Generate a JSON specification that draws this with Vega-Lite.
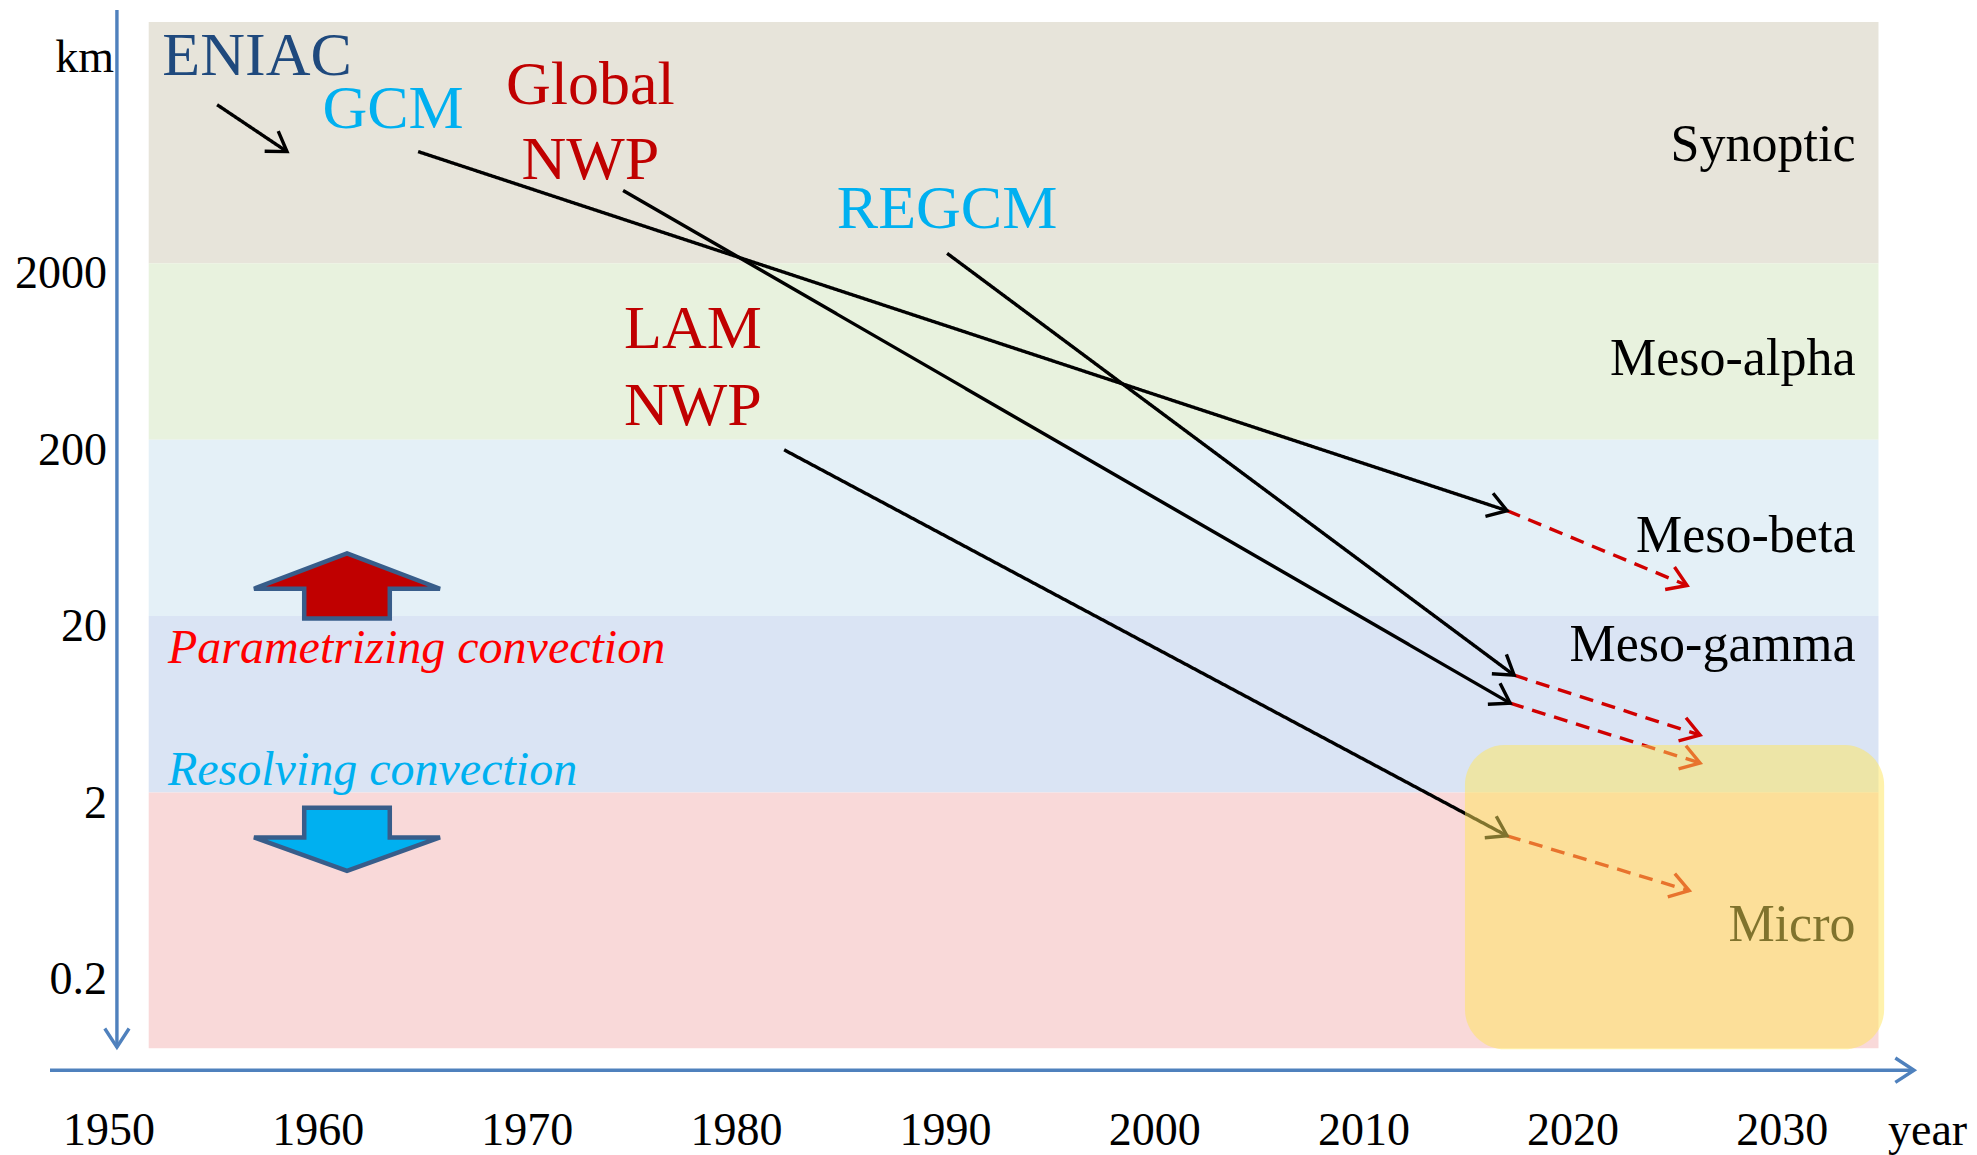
{
  "$schema": "https://vega.github.io/schema/vega-lite/v6.json",
  "width": 1977,
  "height": 1155,
  "autosize": {"type": "fit", "contains": "padding"},
  "padding": 0,
  "background": "#ffffff",
  "config": {"view": {"stroke": null}, "text": {"font": "Liberation Serif"}},
  "datasets": {
    "bands": [
      {"band": "Synoptic", "lo": 2000, "hi": 46600},
      {"band": "Meso-alpha", "lo": 200, "hi": 2000},
      {"band": "Meso-beta", "lo": 20, "hi": 200},
      {"band": "Meso-gamma", "lo": 2, "hi": 20},
      {"band": "Micro", "lo": 0.0711, "hi": 2}
    ],
    "segments": [
      {"seg": "ENIAC", "kind": "solid", "x1": 1955.17, "k1": 15820, "x2": 1958.51, "k2": 8584},
      {"seg": "GCM", "kind": "solid", "x1": 1964.78, "k1": 8584, "x2": 2016.84, "k2": 79.15},
      {"seg": "Global NWP", "kind": "solid", "x1": 1974.58, "k1": 5166, "x2": 2016.99, "k2": 6.42},
      {"seg": "REGCM", "kind": "solid", "x1": 1990.07, "k1": 2275, "x2": 2017.18, "k2": 9.244},
      {"seg": "LAM NWP", "kind": "solid", "x1": 1982.28, "k1": 175.1, "x2": 2016.84, "k2": 1.137},
      {"seg": "GCM future", "kind": "dashed", "x1": 2016.84, "k1": 79.15, "x2": 2025.45, "k2": 29.82},
      {"seg": "REGCM future", "kind": "dashed", "x1": 2017.18, "k1": 9.244, "x2": 2026.07, "k2": 4.232},
      {"seg": "Global NWP future", "kind": "dashed", "x1": 2016.99, "k1": 6.42, "x2": 2026.07, "k2": 2.94},
      {"seg": "LAM NWP future", "kind": "dashed", "x1": 2016.84, "k1": 1.137, "x2": 2025.55, "k2": 0.5556},
      {"seg": "km axis", "kind": "axis", "x1": 1950.38, "k1": 54490, "x2": 1950.38, "k2": 0.072},
      {"seg": "year axis", "kind": "axis", "x1": 1947.18, "k1": 0.05336, "x2": 2036.3, "k2": 0.05336}
    ],
    "models": [
      {"label": "ENIAC", "family": "ENIAC", "x": 1957.08, "km": 23380},
      {"label": "GCM", "family": "climate", "x": 1963.58, "km": 11730},
      {"label": "Global", "family": "nwp", "x": 1973.02, "km": 16030},
      {"label": "NWP", "family": "nwp", "x": 1973.02, "km": 6038},
      {"label": "REGCM", "family": "climate", "x": 1990.07, "km": 3150},
      {"label": "LAM", "family": "nwp", "x": 1977.92, "km": 660.7},
      {"label": "NWP", "family": "nwp", "x": 1977.92, "km": 242.5}
    ],
    "scales": [
      {"band": "Synoptic", "km": 7632},
      {"band": "Meso-alpha", "km": 464.9},
      {"band": "Meso-beta", "km": 46.42},
      {"band": "Meso-gamma", "km": 11.09},
      {"band": "Micro", "km": 0.2898}
    ],
    "notes": [
      {"note": "Parametrizing convection", "km": 10.8},
      {"note": "Resolving convection", "km": 2.208}
    ],
    "shifts": [
      {"dir": "up", "km": 29.63},
      {"dir": "down", "km": 1.086}
    ],
    "yticks": [
      {"label": "2000", "km": 2000},
      {"label": "200", "km": 200},
      {"label": "20", "km": 20},
      {"label": "2", "km": 2},
      {"label": "0.2", "km": 0.2}
    ],
    "years": [
      {"year": 1950}, {"year": 1960}, {"year": 1970}, {"year": 1980}, {"year": 1990},
      {"year": 2000}, {"year": 2010}, {"year": 2020}, {"year": 2030}
    ],
    "units": [
      {"unit": "km", "x": 1950.24, "km": 24310},
      {"unit": "year", "x": 2038.84, "km": 0.0201}
    ],
    "focus": [
      {"zone": "micro future", "x0": 2014.83, "x1": 2034.87, "lo": 0.0701, "hi": 3.716}
    ]
  },
  "resolve": {"scale": {"color": "independent", "fill": "independent", "stroke": "independent", "strokeDash": "independent", "shape": "independent"}},
  "layer": [
    {
      "data": {"name": "bands"},
      "mark": {"type": "rect"},
      "encoding": {
        "x": {"datum": 1951.9, "type": "quantitative", "scale": {"domain": [1944.79, 2039.31], "nice": false, "zero": false}, "axis": null},
        "x2": {"datum": 2034.6},
        "y": {"field": "hi", "type": "quantitative", "scale": {"type": "log", "domain": [0.01835, 62070], "nice": false}, "axis": null},
        "y2": {"field": "lo"},
        "fill": {"field": "band", "type": "nominal", "scale": {"domain": ["Synoptic", "Meso-alpha", "Meso-beta", "Meso-gamma", "Micro"], "range": ["#e7e4da", "#e8f2de", "#e4f0f7", "#dae4f4", "#f9d9d9"]}, "legend": null}
      }
    },
    {
      "data": {"name": "segments"},
      "mark": {"type": "rule", "strokeWidth": 3.4},
      "encoding": {
        "x": {"field": "x1", "type": "quantitative", "scale": {"domain": [1944.79, 2039.31], "nice": false, "zero": false}, "axis": null},
        "x2": {"field": "x2"},
        "y": {"field": "k1", "type": "quantitative", "scale": {"type": "log", "domain": [0.01835, 62070], "nice": false}, "axis": null},
        "y2": {"field": "k2"},
        "stroke": {"field": "kind", "type": "nominal", "scale": {"domain": ["solid", "dashed", "axis"], "range": ["#000000", "#d00000", "#4f81bd"]}, "legend": null},
        "strokeDash": {"field": "kind", "type": "nominal", "scale": {"domain": ["solid", "dashed", "axis"], "range": [[1, 0], [14, 9], [1, 0]]}, "legend": null}
      }
    },
    {
      "data": {"name": "segments"},
      "transform": [
        {"calculate": "atan2(-(log(datum.k2) - log(datum.k1)) / LN10 * 176.9, (datum.x2 - datum.x1) * 20.915) * 180 / PI", "as": "ang"}
      ],
      "mark": {"type": "point", "shape": "M -1 -0.65 L 0 0 L -1 0.65", "size": 1400, "filled": false, "strokeWidth": 3.4, "opacity": 1, "strokeJoin": "miter"},
      "encoding": {
        "x": {"field": "x2", "type": "quantitative", "scale": {"domain": [1944.79, 2039.31], "nice": false, "zero": false}, "axis": null},
        "y": {"field": "k2", "type": "quantitative", "scale": {"type": "log", "domain": [0.01835, 62070], "nice": false}, "axis": null},
        "angle": {"field": "ang", "type": "quantitative", "scale": null},
        "stroke": {"field": "kind", "type": "nominal", "scale": {"domain": ["solid", "dashed", "axis"], "range": ["#000000", "#d00000", "#4f81bd"]}, "legend": null}
      }
    },
    {
      "data": {"name": "models"},
      "mark": {"type": "text", "font": "Liberation Serif", "fontSize": 62, "align": "center", "baseline": "alphabetic"},
      "encoding": {
        "x": {"field": "x", "type": "quantitative", "scale": {"domain": [1944.79, 2039.31], "nice": false, "zero": false}, "axis": null},
        "y": {"field": "km", "type": "quantitative", "scale": {"type": "log", "domain": [0.01835, 62070], "nice": false}, "axis": null},
        "text": {"field": "label"},
        "color": {"field": "family", "type": "nominal", "scale": {"domain": ["ENIAC", "climate", "nwp"], "range": ["#1f497d", "#00b0f0", "#c00000"]}, "legend": null}
      }
    },
    {
      "data": {"name": "scales"},
      "mark": {"type": "text", "font": "Liberation Serif", "fontSize": 52, "align": "right", "baseline": "alphabetic", "color": "#000000"},
      "encoding": {
        "x": {"datum": 2033.5, "type": "quantitative", "scale": {"domain": [1944.79, 2039.31], "nice": false, "zero": false}, "axis": null},
        "y": {"field": "km", "type": "quantitative", "scale": {"type": "log", "domain": [0.01835, 62070], "nice": false}, "axis": null},
        "text": {"field": "band"}
      }
    },
    {
      "data": {"name": "notes"},
      "mark": {"type": "text", "font": "Liberation Serif", "fontSize": 48, "fontStyle": "italic", "align": "left", "baseline": "alphabetic"},
      "encoding": {
        "x": {"datum": 1952.82, "type": "quantitative", "scale": {"domain": [1944.79, 2039.31], "nice": false, "zero": false}, "axis": null},
        "y": {"field": "km", "type": "quantitative", "scale": {"type": "log", "domain": [0.01835, 62070], "nice": false}, "axis": null},
        "text": {"field": "note"},
        "color": {"field": "note", "type": "nominal", "scale": {"domain": ["Parametrizing convection", "Resolving convection"], "range": ["#ff0000", "#00b0f0"]}, "legend": null}
      }
    },
    {
      "data": {"name": "shifts"},
      "mark": {"type": "point", "filled": true, "size": 34596, "opacity": 1, "stroke": "#385d8a", "strokeWidth": 4.5, "strokeJoin": "miter"},
      "encoding": {
        "x": {"datum": 1961.38, "type": "quantitative", "scale": {"domain": [1944.79, 2039.31], "nice": false, "zero": false}, "axis": null},
        "y": {"field": "km", "type": "quantitative", "scale": {"type": "log", "domain": [0.01835, 62070], "nice": false}, "axis": null},
        "shape": {"field": "dir", "type": "nominal", "scale": {"domain": ["up", "down"], "range": ["M 0 -0.35 L 1 0.03 L 0.46 0.03 L 0.46 0.35 L -0.46 0.35 L -0.46 0.03 L -1 0.03 Z", "M -0.46 -0.34 L 0.46 -0.34 L 0.46 -0.02 L 1 -0.02 L 0 0.34 L -1 -0.02 L -0.46 -0.02 Z"]}, "legend": null},
        "fill": {"field": "dir", "type": "nominal", "scale": {"domain": ["up", "down"], "range": ["#c00000", "#00b0f0"]}, "legend": null}
      }
    },
    {
      "data": {"name": "yticks"},
      "mark": {"type": "text", "font": "Liberation Serif", "fontSize": 46, "align": "right", "baseline": "middle", "dy": 11, "color": "#000000"},
      "encoding": {
        "x": {"datum": 1949.91, "type": "quantitative", "scale": {"domain": [1944.79, 2039.31], "nice": false, "zero": false}, "axis": null},
        "y": {"field": "km", "type": "quantitative", "scale": {"type": "log", "domain": [0.01835, 62070], "nice": false}, "axis": null},
        "text": {"field": "label"}
      }
    },
    {
      "data": {"name": "years"},
      "mark": {"type": "text", "font": "Liberation Serif", "fontSize": 46, "align": "center", "baseline": "alphabetic", "color": "#000000"},
      "encoding": {
        "x": {"field": "year", "type": "quantitative", "scale": {"domain": [1944.79, 2039.31], "nice": false, "zero": false}, "axis": null},
        "y": {"datum": 0.0201, "type": "quantitative", "scale": {"type": "log", "domain": [0.01835, 62070], "nice": false}, "axis": null},
        "text": {"field": "year", "type": "quantitative", "format": "d"}
      }
    },
    {
      "data": {"name": "units"},
      "mark": {"type": "text", "font": "Liberation Serif", "fontSize": 46, "align": "right", "baseline": "alphabetic", "color": "#000000"},
      "encoding": {
        "x": {"field": "x", "type": "quantitative", "scale": {"domain": [1944.79, 2039.31], "nice": false, "zero": false}, "axis": null},
        "y": {"field": "km", "type": "quantitative", "scale": {"type": "log", "domain": [0.01835, 62070], "nice": false}, "axis": null},
        "text": {"field": "unit"}
      }
    },
    {
      "data": {"name": "focus"},
      "mark": {"type": "rect", "cornerRadius": 40, "fill": "#ffe55a", "opacity": 0.5},
      "encoding": {
        "x": {"field": "x0", "type": "quantitative", "scale": {"domain": [1944.79, 2039.31], "nice": false, "zero": false}, "axis": null},
        "x2": {"field": "x1"},
        "y": {"field": "hi", "type": "quantitative", "scale": {"type": "log", "domain": [0.01835, 62070], "nice": false}, "axis": null},
        "y2": {"field": "lo"}
      }
    }
  ]
}
